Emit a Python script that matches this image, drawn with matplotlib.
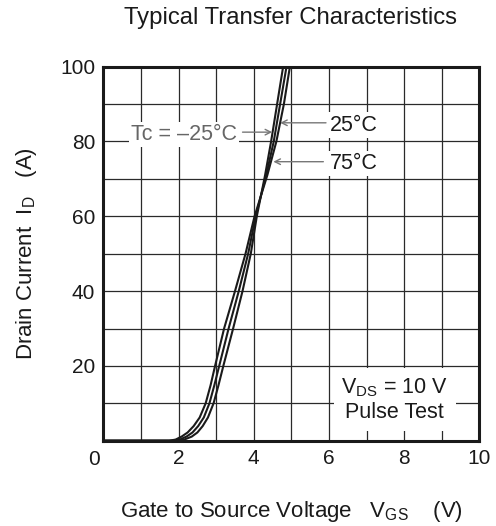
import matplotlib
matplotlib.use("Agg")
import matplotlib.pyplot as plt

plt.rcParams['font.family'] = ['Liberation Sans', 'DejaVu Sans']
plt.rcParams['mathtext.fontset'] = 'custom'
plt.rcParams['mathtext.rm'] = 'Liberation Sans'
plt.rcParams['mathtext.it'] = 'Liberation Sans'
plt.rcParams['mathtext.bf'] = 'Liberation Sans'

# ---- data ----
vgs_m25 = [0.0, 1.95, 2.15, 2.35, 2.50, 2.64, 2.78, 2.93, 3.06, 3.19, 3.45, 3.70, 3.92, 4.08, 4.30, 4.46, 4.62, 4.78]
id_m25 = [0.0, 0.0, 0.3, 1.1, 2.2, 3.9, 6.2, 10.0, 14.8, 20.0, 30.0, 40.0, 50.0, 60.0, 71.0, 80.0, 90.0, 100.0]

vgs_25 = [0.0, 1.85, 2.03, 2.21, 2.37, 2.52, 2.67, 2.82, 2.95, 3.08, 3.33, 3.60, 3.85, 4.05, 4.33, 4.53, 4.70, 4.87]
id_25 = [0.0, 0.0, 0.3, 1.1, 2.2, 3.9, 6.2, 10.0, 14.8, 20.0, 30.0, 40.0, 50.0, 60.0, 71.0, 80.0, 90.0, 100.0]

vgs_75 = [0.0, 1.75, 1.92, 2.08, 2.24, 2.40, 2.56, 2.72, 2.85, 2.97, 3.21, 3.50, 3.78, 4.02, 4.36, 4.60, 4.80, 4.96]
id_75 = [0.0, 0.0, 0.3, 1.1, 2.2, 3.9, 6.2, 10.0, 14.8, 20.0, 30.0, 40.0, 50.0, 60.0, 71.0, 80.0, 90.0, 100.0]

x_ticks = [0, 2, 4, 6, 8, 10]
x_ticklabels = ['', '2', '4', '6', '8', '10']
y_ticks = [0, 20, 40, 60, 80, 100]
y_ticklabels = ['', '20', '40', '60', '80', '100']

W, H = 496, 526
fig = plt.figure(figsize=(W / 100, H / 100), dpi=100)
ax = fig.add_axes([103.4 / W, 1 - 440.7 / H, (479.4 - 103.4) / W, (440.7 - 66.7) / H])

FS_TICK = 15
FS_ANN = 15.5
FS_LAB = 16
FS_TITLE = 17.2
INK = '#1a1a1a'

ax.set_xlim(0, 10)
ax.set_ylim(0, 100)
ax.set_xticks(x_ticks, labels=x_ticklabels)
ax.set_xticks(range(0, 11), minor=True)
ax.set_yticks(y_ticks, labels=y_ticklabels)
ax.set_yticks(range(0, 101, 10), minor=True)
ax.grid(True, which='both', color='#2a2a2a', linewidth=0.9)
ax.set_axisbelow(True)
ax.tick_params(which='both', length=0, labelsize=FS_TICK, colors=INK)
ax.tick_params(axis='x', pad=6)
ax.tick_params(axis='y', pad=6)
for s in ax.spines.values():
    s.set_linewidth(2.2)
    s.set_color(INK)

for xs, ys in [(vgs_m25, id_m25), (vgs_25, id_25), (vgs_75, id_75)]:
    ax.plot(xs, ys, color=INK, linewidth=1.5, zorder=3, clip_on=True,
            solid_joinstyle='round')

ax.annotate('0', xy=(x_ticks[0], y_ticks[0]), xytext=(-7, -6.5), textcoords='offset points',
            ha='center', va='top', fontsize=FS_TICK, color=INK, annotation_clip=False)

white = dict(facecolor='white', edgecolor='none', pad=1.5)
arrow = dict(arrowstyle='->', color='#777777', lw=1.0, shrinkA=0, shrinkB=0)

ax.annotate('', xy=(4.49, 82.5), xytext=(3.70, 82.5), arrowprops=arrow, zorder=4)
ax.text(3.55, 81.9, 'Tc = –25°C', ha='right', va='center', fontsize=FS_ANN, color='#666666',
        bbox=white, zorder=2.5)

ax.annotate('', xy=(4.70, 85.0), xytext=(5.92, 85.0), arrowprops=arrow, zorder=4)
ax.text(6.01, 84.4, '25°C', ha='left', va='center', fontsize=FS_ANN, color=INK,
        bbox=white, zorder=2.5)

ax.annotate('', xy=(4.52, 74.6), xytext=(5.85, 74.6), arrowprops=arrow, zorder=4)
ax.text(6.01, 74.2, '75°C', ha='left', va='center', fontsize=FS_ANN, color=INK,
        bbox=white, zorder=2.5)

ax.text(7.75, 10.9, 'V$_{\\mathrm{DS}}$ = 10 V\nPulse Test', ha='center', va='center',
        fontsize=FS_ANN, color=INK, linespacing=1.2, multialignment='center',
        bbox=dict(facecolor='white', edgecolor='none', boxstyle='square,pad=0.35'), zorder=2.5)

fig.text(291 / W, 1 - 18 / H, 'Typical Transfer Characteristics', ha='center', va='center',
         fontsize=FS_TITLE, color=INK)
fig.text(291 / W, 1 - 511 / H, 'Gate to Source Voltage   V$_{\\mathrm{GS}}$    (V)', ha='center',
         va='center', fontsize=FS_LAB, color=INK)
fig.text(27 / W, 1 - 254 / H, 'Drain Current  I$_{\\mathrm{D}}$   (A)', ha='center', va='center',
         rotation=90, fontsize=FS_LAB, color=INK)

fig.savefig('out.png', dpi=100, facecolor='white')
